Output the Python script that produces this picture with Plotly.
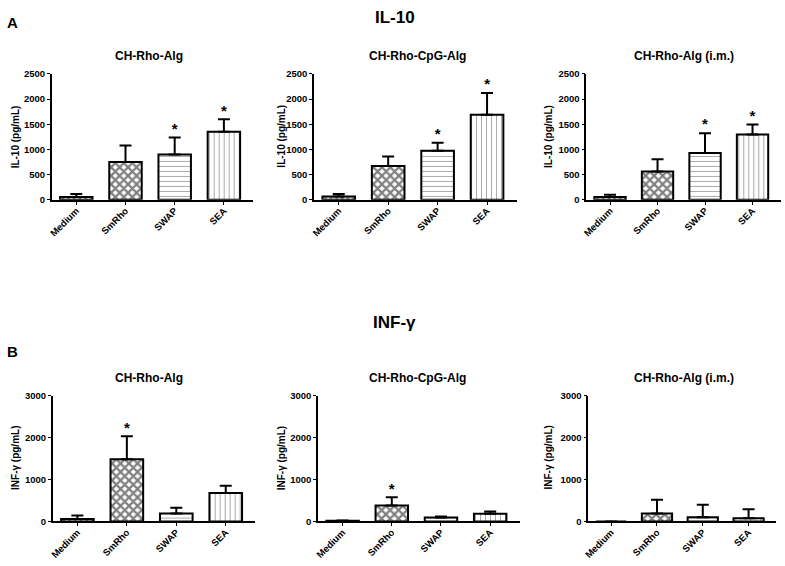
import plotly.graph_objects as go

categories = ["Medium", "SmRho", "SWAP", "SEA"]

panel_titles = ["CH-Rho-Alg", "CH-Rho-CpG-Alg", "CH-Rho-Alg (i.m.)"]

il10_rho = [55, 750, 900, 1350]
il10_rho_sem = [60, 330, 340, 250]
il10_rho_star = [False, False, True, True]

il10_cpg = [65, 670, 975, 1690]
il10_cpg_sem = [50, 190, 160, 430]
il10_cpg_star = [False, False, True, True]

il10_im = [55, 565, 930, 1300]
il10_im_sem = [45, 240, 395, 195]
il10_im_star = [False, False, True, True]

inf_rho = [60, 1480, 190, 680]
inf_rho_sem = [80, 550, 140, 170]
inf_rho_star = [False, True, False, False]

inf_cpg = [15, 380, 95, 185]
inf_cpg_sem = [8, 195, 22, 55]
inf_cpg_star = [False, True, False, False]

inf_im = [0, 190, 100, 75]
inf_im_sem = [0, 330, 300, 215]
inf_im_star = [False, False, False, False]

il10_ticks = [0, 500, 1000, 1500, 2000, 2500]
inf_ticks = [0, 1000, 2000, 3000]

W, H = 785, 566
FONT = "Liberation Sans, Arial, sans-serif"

patterns = [
    dict(shape="x", size=4, solidity=0.5, fgcolor="black", bgcolor="white"),
    dict(shape="x", size=6, solidity=0.6, fgcolor="black", bgcolor="white"),
    dict(shape="-", size=5, solidity=0.2, fgcolor="#555555", bgcolor="white"),
    dict(shape="|", size=5, solidity=0.2, fgcolor="#555555", bgcolor="white"),
]

panels = [
    (il10_rho, il10_rho_sem, il10_rho_star, (47, 250), (69.3, 197.7), il10_ticks, 2500),
    (il10_cpg, il10_cpg_sem, il10_cpg_star, (311, 515), (69.3, 197.7), il10_ticks, 2500),
    (il10_im, il10_im_sem, il10_im_star, (585, 781), (69.3, 197.7), il10_ticks, 2500),
    (inf_rho, inf_rho_sem, inf_rho_star, (48, 252), (397.3, 525.7), inf_ticks, 3000),
    (inf_cpg, inf_cpg_sem, inf_cpg_star, (315, 518), (397.3, 525.7), inf_ticks, 3000),
    (inf_im, inf_im_sem, inf_im_star, (587, 776), (397.3, 525.7), inf_ticks, 3000),
]

fig = go.Figure()
layout_axes = {}
annotations = []


def px_x(x):
    return x / W


def px_y(y):
    return 1 - y / H


for i, (vals, sems, stars, xd, yd, ticks, ymax) in enumerate(panels):
    n = i + 1
    xa = "x" if n == 1 else f"x{n}"
    ya = "y" if n == 1 else f"y{n}"
    for j, cat in enumerate(categories):
        fig.add_trace(go.Bar(
            x=[cat], y=[vals[j]], xaxis=xa, yaxis=ya, width=0.66,
            marker=dict(color="white", line=dict(color="black", width=2),
                        pattern=patterns[j]),
            error_y=dict(type="data", symmetric=False, array=[sems[j]], arrayminus=[0],
                         color="black", thickness=2, width=6),
            showlegend=False, hoverinfo="skip",
        ))
    sx = [c for c, s in zip(categories, stars) if s]
    sy = [v + e for v, e, s in zip(vals, sems, stars) if s]
    if sx:
        fig.add_trace(go.Scatter(
            x=sx, y=sy, xaxis=xa, yaxis=ya, mode="text", text=["*"] * len(sx),
            textposition="top center",
            textfont=dict(family=FONT, size=15, color="black", weight="bold"),
            showlegend=False, hoverinfo="skip", cliponaxis=False,
        ))
    xkey = "xaxis" if n == 1 else f"xaxis{n}"
    ykey = "yaxis" if n == 1 else f"yaxis{n}"
    layout_axes[xkey] = dict(
        domain=[px_x(xd[0]), px_x(xd[1])], anchor=ya, range=[-0.5, 3.6],
        type="category", categoryorder="array", categoryarray=categories,
        showline=True, linecolor="black", linewidth=1.5, ticks="outside",
        ticklen=3, tickwidth=1, tickcolor="black", tickangle=-45,
        ticklabelstandoff=-3,
        tickfont=dict(family=FONT, size=9.5, color="black", weight="bold"),
        showgrid=False, zeroline=False, fixedrange=True,
    )
    layout_axes[ykey] = dict(
        domain=[px_y(yd[1]), px_y(yd[0])], anchor=xa, range=[0, ymax],
        tickmode="array", tickvals=ticks,
        showline=True, linecolor="black", linewidth=1.5, ticks="outside",
        ticklen=3, tickwidth=1, tickcolor="black",
        tickfont=dict(family=FONT, size=9.5, color="black", weight="bold"),
        showgrid=False, zeroline=False, fixedrange=True,
    )

# panel subtitles
sub_x = [145, 415, 683]
for k, t in enumerate(panel_titles):
    for yy in (51, 379):
        annotations.append(dict(
            text=t, x=px_x(sub_x[k]), y=px_y(yy), xref="paper", yref="paper",
            xanchor="center", yanchor="middle", showarrow=False,
            font=dict(family=FONT, size=12, color="black", weight="bold")))

# y-axis titles
ax_x = [10, 278, 547]
for k in range(3):
    for yy, txt in ((133, "IL-10 (pg/mL)"), (461, "INF-γ (pg/mL)")):
        annotations.append(dict(
            text=txt, x=px_x(ax_x[k]), y=px_y(yy), xref="paper", yref="paper",
            xanchor="center", yanchor="middle", showarrow=False, textangle=-90,
            font=dict(family=FONT, size=10, color="black", weight="bold")))

# main titles and panel letters
for txt, xx, yy, sz in (("IL-10", 392, 12, 17), ("INF-γ", 392, 323, 17),
                        ("A", 8, 17, 15), ("B", 8, 352, 15)):
    annotations.append(dict(
        text=txt, x=px_x(xx), y=px_y(yy), xref="paper", yref="paper",
        xanchor="center", yanchor="middle", showarrow=False,
        font=dict(family=FONT, size=sz, color="black", weight="bold")))

fig.update_layout(
    width=W, height=H, margin=dict(l=0, r=0, t=0, b=0),
    paper_bgcolor="white", plot_bgcolor="white",
    barmode="overlay", annotations=annotations, **layout_axes,
)

fig.write_html("out.html", config={"displayModeBar": False},
               post_script="document.body.style.margin='0';document.body.style.overflow='hidden';")
